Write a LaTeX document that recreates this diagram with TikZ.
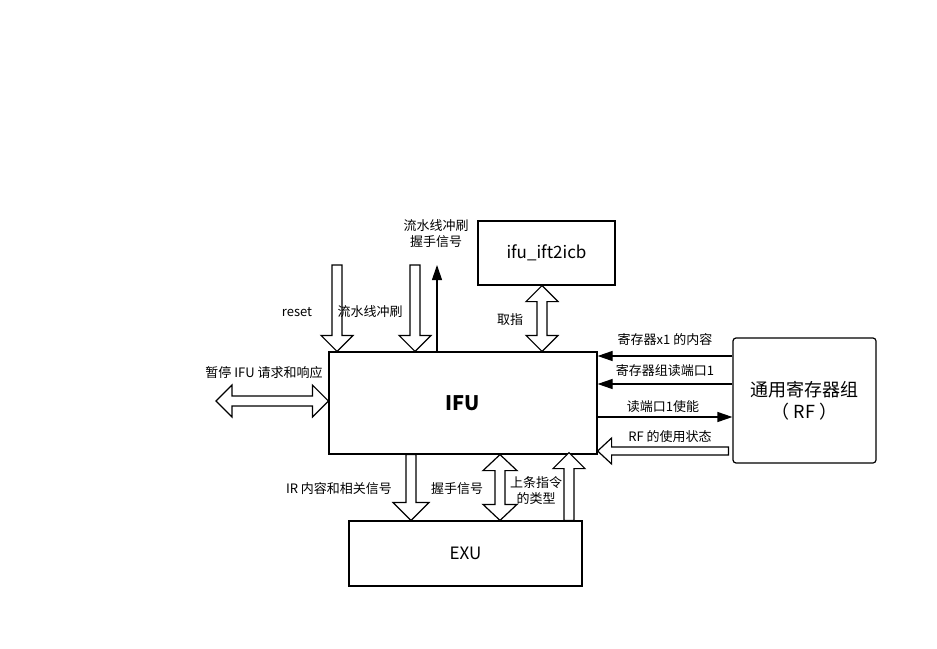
\documentclass[tikz,border=0pt]{standalone}
\usepackage{fontspec}
\setmainfont{Noto Sans CJK SC}
\usetikzlibrary{arrows.meta,calc}
\tikzset{>={Triangle[length=15pt,width=10pt]}}
\tikzset{
  bw/.store in=\bw, bh/.store in=\bh, bl/.store in=\bl, bw=5, bh=16, bl=16,
  box/.style={draw,line width=1.2pt,inner sep=0pt},
  lbl/.style={font=\fontsize{13}{16}\selectfont,align=center,inner sep=0pt},
  thin/.style={->,line width=1.2pt},
  blk/.style={draw,line width=1.2pt,fill=white,to path={
    let \p1=($(\tikztotarget)-(\tikztostart)$),\n1={atan2(\y1,\x1)},\n2={veclen(\x1,\y1)} in
    {[shift={(\tikztostart)},rotate=\n1]
    (0,-\bw)--(\n2-\bl,-\bw)--(\n2-\bl,-\bh)--(\n2,0)--(\n2-\bl,\bh)--(\n2-\bl,\bw)--(0,\bw)--cycle}}},
  dblk/.style={draw,line width=1.2pt,fill=white,to path={
    let \p1=($(\tikztotarget)-(\tikztostart)$),\n1={atan2(\y1,\x1)},\n2={veclen(\x1,\y1)} in
    {[shift={(\tikztostart)},rotate=\n1]
    (0,0)--(\bl,-\bh)--(\bl,-\bw)--(\n2-\bl,-\bw)--(\n2-\bl,-\bh)--(\n2,0)--(\n2-\bl,\bh)--(\n2-\bl,\bw)--(\bl,\bw)--(\bl,\bh)--cycle}}}
}
\begin{document}
\begin{tikzpicture}[x=1pt,y=-1pt]
\useasboundingbox (0,0) rectangle (937,648);
\node[box,minimum width=268pt,minimum height=102pt,font=\fontsize{20}{24}\selectfont\bfseries] (ifu) at (463,403) {IFU};
\node[box,minimum width=137pt,minimum height=64pt,font=\fontsize{17}{20}\selectfont] (icb) at (546.5,253) {ifu\_ift2icb};
\node[box,rounded corners=3pt,minimum width=143pt,minimum height=125pt,align=center,font=\fontsize{18}{22}\selectfont] (rf) at (804.5,400.5) {通用寄存器组\\（ RF ）};
\node[box,minimum width=233pt,minimum height=65pt,font=\fontsize{17}{20}\selectfont] (exu) at (465.5,553.5) {EXU};
\coordinate (cRst) at (337,265);
\coordinate (cFl) at (415,265);
\coordinate (cAck) at (437,265);
\coordinate (cFetch) at (542,0);
\coordinate (cStall) at (216,401);
\coordinate (cIR) at (411,0);
\coordinate (cHs) at (500,0);
\coordinate (cTyp) at (569,0);
\coordinate (r1) at (0,356);
\coordinate (r2) at (0,384);
\coordinate (r3) at (0,417);
\coordinate (cUse) at (0,451);
\draw[blk] (cRst) to (ifu.north -| cRst);
\draw[blk] (cFl) to (ifu.north -| cFl);
\draw[thin] (ifu.north -| cAck) -- (cAck);
\draw[dblk] (icb.south -| cFetch) to (ifu.north -| cFetch);
\draw[dblk] (cStall) to (ifu.west |- cStall);
\draw[blk,bh=18,bl=18] (ifu.south -| cIR) to (exu.north -| cIR);
\draw[dblk,bh=17] (ifu.south -| cHs) to (exu.north -| cHs);
\draw[blk] (exu.north -| cTyp) to ([yshift=2pt]ifu.south -| cTyp);
\draw[thin] (rf.west |- r1) -- (ifu.east |- r1);
\draw[thin] (rf.west |- r2) -- (ifu.east |- r2);
\draw[thin] (ifu.east |- r3) -- (rf.west |- r3);
\draw[blk,bw=4,bh=13,bl=14] ([xshift=-4pt]rf.west |- cUse) to (ifu.east |- cUse);
\node[lbl] (lRst) at (297,312) {reset};
\node[lbl] (lFl) at (370,312) {流水线冲刷};
\node[lbl] (lAck) at (436,234) {流水线冲刷\\握手信号};
\node[lbl] (lFetch) at (510,320) {取指};
\node[lbl] (lStall) at (264,373) {暂停 IFU 请求和响应};
\node[lbl] (lIR) at (339,489) {IR 内容和相关信号};
\node[lbl] (lHs) at (457,489) {握手信号};
\node[lbl] (lTyp) at (536,491) {上条指令\\的类型};
\node[lbl] (lR1) at (665,340) {寄存器x1 的内容};
\node[lbl] (lR2) at (665,371) {寄存器组读端口1};
\node[lbl] (lR3) at (663,407) {读端口1使能};
\node[lbl] (lUse) at (670,437) {RF 的使用状态};
\end{tikzpicture}
\end{document}
